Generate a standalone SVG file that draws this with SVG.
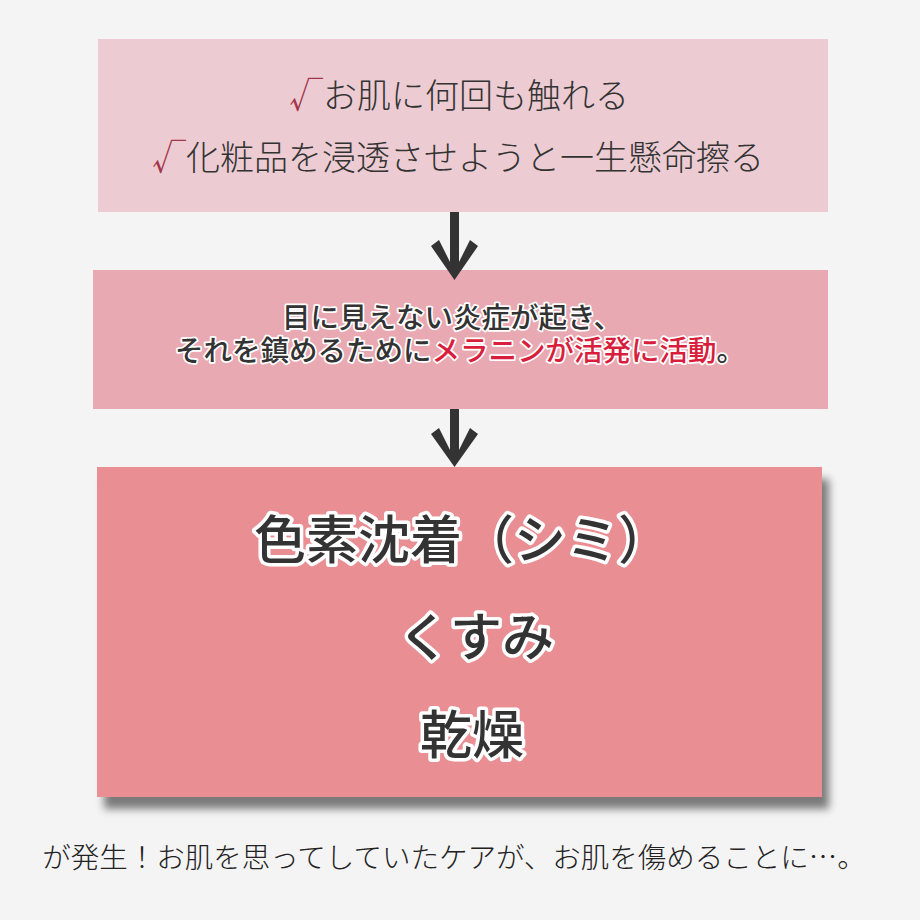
<svg xmlns="http://www.w3.org/2000/svg" width="920" height="920" viewBox="0 0 920 920">
<defs>
<filter id="shadow" x="-10%" y="-10%" width="125%" height="130%">
<feGaussianBlur in="SourceAlpha" stdDeviation="4"/>
<feOffset dx="7" dy="12" result="b"/>
<feComponentTransfer><feFuncA type="linear" slope="0.5"/></feComponentTransfer>
<feMerge><feMergeNode/><feMergeNode in="SourceGraphic"/></feMerge>
</filter>
</defs>
<style>
.t{font-family:"Noto Sans CJK JP","Noto Sans",sans-serif;text-anchor:middle;fill:#333}
.top{font-size:34px;font-weight:300}
.chk{fill:#a3364a}
.halo{stroke:#fff;stroke-linejoin:round;paint-order:stroke fill}
.mid{font-size:28.5px;font-weight:500;stroke-width:3.5px}
.red{fill:#d81e3c}
.big{font-size:52px;font-weight:500;stroke-width:7px}
.bot{font-size:28.5px;font-weight:300;fill:#222}
.arrow{fill:#333}
</style>
<rect width="920" height="920" fill="#f5f4f4"/>
<g id="box1">
<rect x="98" y="39" width="730" height="173" fill="#ecccd2"/>
<text class="t top" x="459" y="108"><tspan class="chk">√</tspan>お肌に何回も触れる</text>
<text class="t top" x="458" y="170"><tspan class="chk">√</tspan>化粧品を浸透させようと一生懸命擦る</text>
</g>
<g id="box2">
<rect x="93" y="270" width="735" height="139" fill="#e8a9b2"/>
<text class="t halo mid" x="452" y="328">目に見えない炎症が起き、</text>
<text class="t halo mid" x="460" y="361">それを鎮めるために<tspan class="red">メラニンが活発に活動</tspan>。</text>
</g>
<g id="box3">
<rect x="97" y="467" width="725" height="330" fill="#e98f94" filter="url(#shadow)"/>
<text class="t halo big" x="462" y="559">色素沈着（シミ）</text>
<text class="t halo big" x="476" y="656">くすみ</text>
<text class="t halo big" x="472" y="754">乾燥</text>
</g>
<g id="connectors">
<path class="arrow" d="M450,212 H459 V262 L470,240 L478,246 L454.5,280 L431,246 L439,240 L450,262 Z"/>
<path class="arrow" d="M450,409 H459 V450 L470,428 L478,434 L454.5,467 L431,434 L439,428 L450,450 Z"/>
</g>
<g id="footer">
<text class="t bot" x="454" y="868">が発生！お肌を思ってしていたケアが、お肌を傷めることに…。</text>
</g>
</svg>
